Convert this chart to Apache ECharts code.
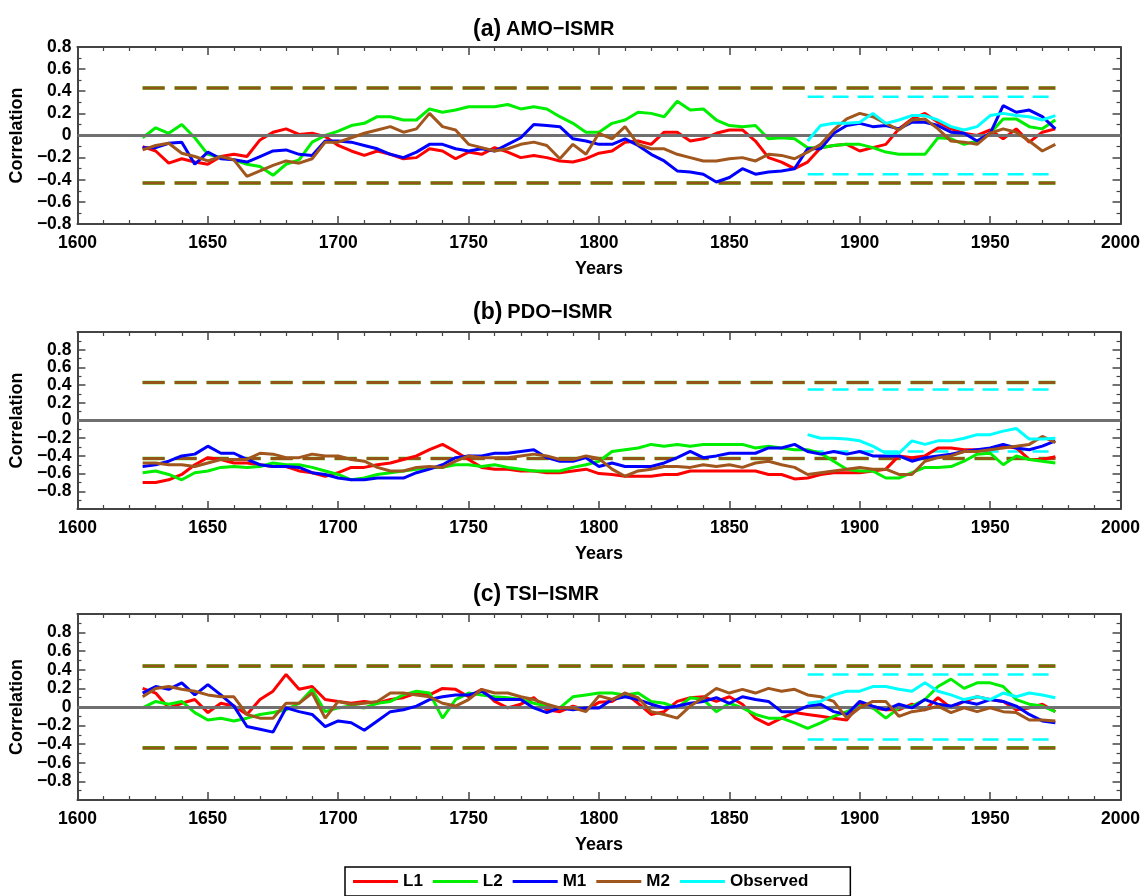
<!DOCTYPE html>
<html>
<head>
<meta charset="utf-8">
<script src="https://cdn.jsdelivr.net/npm/echarts@6/dist/echarts.min.js"></script>
<style>
html,body{margin:0;padding:0;background:#fff;}
#chart{width:1143px;height:896px;}
</style>
</head>
<body>
<div id="chart"></div>
<script>
// ---------- DATA ----------
const years = [];
for (let y = 1625; y <= 1975; y += 5) years.push(y);
const obsYears = [];
for (let y = 1880; y <= 1975; y += 5) obsYears.push(y);

const panelTitles = ['(a)', '(b)', '(c)'];
const panelNames = ['AMO\u2212ISMR', 'PDO\u2212ISMR', 'TSI\u2212ISMR'];
const seriesNames = ['L1', 'L2', 'M1', 'M2', 'Observed'];
const xTicks = [1600, 2000, 50];
const sigModel = [0.43, 0.43, 0.44];
const sigObs = [0.35, 0.35, 0.35];
const yRanges = [[-0.8, 0.8], [-1, 1], [-1, 1]];

// (a) AMO-ISMR
const amoL1 = [-0.10,-0.14,-0.25,-0.21,-0.24,-0.26,-0.19,-0.17,-0.19,-0.04,
  0.03,0.06,0.01,0.02,-0.01,-0.09,-0.14,-0.18,-0.14,-0.17,
  -0.21,-0.20,-0.12,-0.14,-0.21,-0.15,-0.17,-0.11,-0.15,-0.20,
  -0.18,-0.20,-0.23,-0.24,-0.21,-0.16,-0.14,-0.06,-0.05,-0.08,
  0.03,0.03,-0.05,-0.03,0.02,0.05,0.05,-0.05,-0.20,-0.24,
  -0.30,-0.24,-0.11,-0.09,-0.08,-0.14,-0.11,-0.08,0.06,0.15,
  0.20,0.12,0.06,0.02,0.00,0.05,-0.03,0.06,-0.06,0.03,
  0.06];
const amoL2 = [-0.02,0.07,0.02,0.10,-0.02,-0.17,-0.20,-0.22,-0.26,-0.28,
  -0.36,-0.26,-0.22,-0.06,0.00,0.04,0.09,0.11,0.17,0.17,
  0.14,0.14,0.24,0.21,0.23,0.26,0.26,0.26,0.28,0.24,
  0.26,0.24,0.17,0.11,0.03,0.03,0.11,0.14,0.21,0.20,
  0.17,0.31,0.23,0.24,0.14,0.09,0.08,0.09,-0.03,-0.02,
  -0.03,-0.11,-0.11,-0.09,-0.08,-0.08,-0.11,-0.15,-0.17,-0.17,
  -0.17,-0.02,-0.03,-0.08,-0.05,0.02,0.15,0.15,0.08,0.06,
  0.14];
const amoM1 = [-0.11,-0.11,-0.07,-0.06,-0.26,-0.15,-0.21,-0.22,-0.24,-0.19,
  -0.14,-0.13,-0.17,-0.18,-0.05,-0.05,-0.06,-0.09,-0.12,-0.17,
  -0.20,-0.15,-0.08,-0.08,-0.12,-0.14,-0.12,-0.14,-0.08,-0.02,
  0.10,0.09,0.08,-0.03,-0.05,-0.08,-0.08,-0.03,-0.09,-0.17,
  -0.23,-0.32,-0.33,-0.35,-0.42,-0.38,-0.30,-0.35,-0.33,-0.32,
  -0.30,-0.12,-0.12,0.02,0.09,0.11,0.08,0.09,0.06,0.12,
  0.12,0.09,0.03,0.02,-0.05,0.02,0.27,0.21,0.23,0.17,
  0.06];
const amoM2 = [-0.13,-0.09,-0.07,-0.16,-0.19,-0.23,-0.19,-0.22,-0.37,-0.32,
  -0.27,-0.23,-0.25,-0.21,-0.06,-0.06,-0.02,0.02,0.05,0.08,
  0.03,0.06,0.20,0.08,0.05,-0.08,-0.11,-0.14,-0.12,-0.08,
  -0.06,-0.09,-0.21,-0.08,-0.17,0.02,-0.03,0.08,-0.08,-0.12,
  -0.12,-0.17,-0.20,-0.23,-0.23,-0.21,-0.20,-0.23,-0.17,-0.18,
  -0.21,-0.15,-0.08,0.05,0.15,0.20,0.17,0.11,0.05,0.14,
  0.15,0.06,-0.05,-0.06,-0.08,0.02,0.06,0.03,-0.05,-0.14,
  -0.08];
const amoObs = [-0.05,0.09,0.11,0.11,0.12,0.20,0.11,0.14,0.18,0.18,
  0.14,0.08,0.05,0.08,0.18,0.20,0.18,0.17,0.14,0.18];

// (b) PDO-ISMR
const pdoL1 = [-0.70,-0.70,-0.67,-0.61,-0.50,-0.42,-0.44,-0.48,-0.48,-0.50,
  -0.52,-0.52,-0.57,-0.59,-0.63,-0.59,-0.53,-0.53,-0.50,-0.48,
  -0.44,-0.40,-0.33,-0.27,-0.35,-0.44,-0.53,-0.55,-0.55,-0.57,
  -0.57,-0.59,-0.59,-0.57,-0.55,-0.60,-0.61,-0.63,-0.63,-0.63,
  -0.61,-0.61,-0.57,-0.57,-0.57,-0.57,-0.57,-0.57,-0.61,-0.61,
  -0.66,-0.65,-0.61,-0.59,-0.59,-0.59,-0.57,-0.55,-0.40,-0.42,
  -0.40,-0.31,-0.31,-0.33,-0.33,-0.33,-0.29,-0.31,-0.44,-0.44,
  -0.41];
const pdoL2 = [-0.59,-0.57,-0.61,-0.67,-0.59,-0.57,-0.53,-0.52,-0.53,-0.52,
  -0.48,-0.50,-0.50,-0.53,-0.57,-0.61,-0.67,-0.65,-0.61,-0.59,
  -0.57,-0.55,-0.53,-0.53,-0.50,-0.50,-0.52,-0.50,-0.53,-0.55,
  -0.57,-0.57,-0.57,-0.53,-0.50,-0.46,-0.35,-0.33,-0.31,-0.27,
  -0.29,-0.27,-0.29,-0.27,-0.27,-0.27,-0.27,-0.31,-0.29,-0.31,
  -0.33,-0.33,-0.37,-0.46,-0.55,-0.57,-0.57,-0.65,-0.65,-0.59,
  -0.53,-0.53,-0.52,-0.46,-0.38,-0.37,-0.50,-0.40,-0.44,-0.46,
  -0.48];
const pdoM1 = [-0.52,-0.50,-0.46,-0.40,-0.38,-0.29,-0.37,-0.37,-0.44,-0.50,
  -0.52,-0.52,-0.53,-0.59,-0.61,-0.65,-0.67,-0.67,-0.65,-0.65,
  -0.65,-0.59,-0.55,-0.50,-0.42,-0.40,-0.40,-0.37,-0.37,-0.35,
  -0.33,-0.42,-0.46,-0.46,-0.42,-0.52,-0.48,-0.52,-0.52,-0.52,
  -0.48,-0.42,-0.35,-0.42,-0.40,-0.37,-0.37,-0.37,-0.31,-0.31,
  -0.27,-0.35,-0.38,-0.35,-0.38,-0.35,-0.40,-0.40,-0.40,-0.46,
  -0.42,-0.40,-0.38,-0.35,-0.33,-0.31,-0.27,-0.31,-0.33,-0.29,
  -0.23];
const pdoM2 = [-0.48,-0.48,-0.50,-0.50,-0.52,-0.48,-0.44,-0.44,-0.44,-0.37,
  -0.38,-0.42,-0.42,-0.38,-0.40,-0.40,-0.44,-0.46,-0.53,-0.57,
  -0.57,-0.53,-0.52,-0.53,-0.46,-0.40,-0.42,-0.42,-0.42,-0.40,
  -0.38,-0.40,-0.44,-0.44,-0.40,-0.43,-0.55,-0.63,-0.57,-0.55,
  -0.52,-0.52,-0.53,-0.50,-0.52,-0.50,-0.53,-0.48,-0.46,-0.50,
  -0.53,-0.61,-0.59,-0.57,-0.55,-0.53,-0.55,-0.55,-0.61,-0.61,
  -0.46,-0.42,-0.40,-0.35,-0.35,-0.33,-0.31,-0.29,-0.27,-0.18,
  -0.25];
const pdoObs = [-0.16,-0.20,-0.20,-0.21,-0.23,-0.29,-0.37,-0.37,-0.23,-0.27,
  -0.23,-0.23,-0.20,-0.16,-0.16,-0.12,-0.09,-0.21,-0.21,-0.20];

// (c) TSI-ISMR
const tsiL1 = [0.20,0.15,-0.01,0.04,0.08,-0.06,0.04,0.01,-0.08,0.08,
  0.17,0.35,0.19,0.22,0.08,0.06,0.04,0.06,0.04,0.08,
  0.10,0.15,0.13,0.20,0.19,0.11,0.19,0.06,-0.01,0.03,
  0.10,-0.03,-0.05,0.01,-0.03,0.05,0.06,0.15,0.04,-0.08,
  -0.05,0.06,0.10,0.11,0.06,0.11,0.03,-0.12,-0.19,-0.12,
  -0.06,-0.08,-0.10,-0.12,-0.14,0.04,-0.01,-0.03,-0.03,0.03,
  -0.03,0.10,-0.01,0.06,0.11,0.08,0.06,-0.03,-0.01,0.03,
  -0.05];
const tsiL2 = [-0.01,0.06,0.03,0.06,-0.06,-0.14,-0.12,-0.15,-0.12,-0.08,
  -0.06,-0.03,0.04,0.19,-0.05,-0.01,0.01,-0.01,0.04,0.06,
  0.13,0.17,0.15,-0.12,0.08,0.15,0.13,0.11,0.10,0.08,
  0.04,0.01,-0.01,0.11,0.13,0.15,0.15,0.13,0.15,0.06,
  0.04,-0.01,0.10,0.08,-0.05,0.04,-0.01,-0.08,-0.12,-0.12,
  -0.17,-0.23,-0.17,-0.10,-0.05,0.01,-0.01,-0.12,-0.01,0.01,
  0.08,0.22,0.30,0.20,0.26,0.26,0.22,0.08,0.03,0.01,
  -0.05];
const tsiM1 = [0.15,0.22,0.19,0.26,0.13,0.24,0.13,0.01,-0.21,-0.24,
  -0.27,-0.01,-0.05,-0.08,-0.21,-0.15,-0.17,-0.25,-0.15,-0.05,
  -0.03,0.01,0.08,0.11,0.13,0.13,0.17,0.08,0.08,0.08,
  -0.01,-0.06,-0.01,-0.03,-0.01,-0.01,0.08,0.11,0.08,0.03,
  -0.01,0.01,0.04,0.06,0.10,0.04,0.11,0.08,0.06,-0.05,
  -0.05,0.01,0.03,-0.05,-0.08,0.06,0.01,-0.03,0.03,-0.01,
  0.08,0.03,0.01,0.06,0.03,0.08,0.06,0.01,-0.08,-0.15,
  -0.17];
const tsiM2 = [0.11,0.20,0.22,0.19,0.17,0.13,0.11,0.11,-0.08,-0.12,
  -0.12,0.04,0.04,0.15,-0.12,0.06,0.03,0.04,0.06,0.15,
  0.15,0.13,0.11,0.04,0.01,0.08,0.19,0.15,0.15,0.11,
  0.08,0.03,-0.01,-0.01,-0.05,0.12,0.08,0.15,0.10,-0.05,
  -0.08,-0.12,0.01,0.10,0.20,0.15,0.19,0.15,0.20,0.17,
  0.19,0.13,0.11,0.06,-0.12,-0.01,0.06,0.06,-0.10,-0.05,
  -0.03,0.01,-0.06,-0.01,-0.05,-0.01,-0.05,-0.06,-0.14,-0.14,
  -0.15];
const tsiObs = [0.04,0.06,0.13,0.17,0.17,0.22,0.22,0.19,0.17,0.26,
  0.17,0.13,0.08,0.11,0.08,0.15,0.11,0.15,0.13,0.10];

const panels = [
  [amoL1, amoL2, amoM1, amoM2, amoObs],
  [pdoL1, pdoL2, pdoM1, pdoM2, pdoObs],
  [tsiL1, tsiL2, tsiM1, tsiM2, tsiObs]
];

// ---------- STYLE ----------
const colors = ['#ff0000', '#00ee00', '#0000ff', '#a0561c', '#00ffff'];
const FONT = 'Liberation Sans, Arial, Helvetica, sans-serif';
const AX = '#444';
const grids = [
  {left: 77, right: 21, top: 47, height: 177},
  {left: 77, right: 21, top: 332, height: 177},
  {left: 77, right: 21, top: 614, height: 186}
];
const titleTops = [13, 296, 578];

const chart = echarts.init(document.getElementById('chart'), null, {renderer: 'canvas'});

const xAxes = [], yAxes = [], series = [], titles = [];

function yFmt(v) {
  if (Math.abs(v) < 1e-9) return '0';
  if (Math.abs(Math.abs(v) - 1) < 1e-9) return '';
  return (v < 0 ? '\u2212' : '') + Math.abs(v).toFixed(1);
}
function xFmt(v) { return String(Math.round(v)); }

for (let p = 0; p < 3; p++) {
  const tickCommon = {
    axisLine: {show: true, onZero: false, lineStyle: {color: AX, width: 2}},
    axisTick: {show: true, inside: true, length: 8, lineStyle: {color: AX, width: 1.5}},
    minorTick: {show: true, splitNumber: 5, length: 4, lineStyle: {color: AX, width: 1.2}},
    splitLine: {show: false}
  };
  xAxes.push(Object.assign({
    type: 'value', gridIndex: p, min: xTicks[0], max: xTicks[1], interval: xTicks[2],
    position: 'bottom',
    axisLabel: {color: '#000', fontSize: 17.5, fontWeight: 'bold', fontFamily: FONT, margin: 10,
      formatter: xFmt, showMinLabel: true, showMaxLabel: true},
    name: 'Years', nameLocation: 'middle', nameGap: 36,
    nameTextStyle: {color: '#000', fontSize: 18, fontWeight: 'bold', fontFamily: FONT}
  }, tickCommon));
  xAxes.push(Object.assign({
    type: 'value', gridIndex: p, min: xTicks[0], max: xTicks[1], interval: xTicks[2],
    position: 'top', axisLabel: {show: false}
  }, tickCommon));
  const yCommon = {
    axisLine: {show: true, onZero: false, lineStyle: {color: AX, width: 2}},
    axisTick: {show: true, inside: true, length: 8, lineStyle: {color: AX, width: 1.5}},
    minorTick: {show: true, splitNumber: 2, length: 4, lineStyle: {color: AX, width: 1.2}},
    splitLine: {show: false}
  };
  yAxes.push(Object.assign({
    type: 'value', gridIndex: p, min: yRanges[p][0], max: yRanges[p][1], interval: 0.2,
    position: 'left',
    axisLabel: {color: '#000', fontSize: 17.5, fontWeight: 'bold', fontFamily: FONT, margin: 6,
      formatter: yFmt, showMinLabel: true, showMaxLabel: true},
    name: 'Correlation', nameLocation: 'middle', nameGap: 39, nameRotate: 90,
    nameTextStyle: {color: '#000', fontSize: 18, fontWeight: 'bold', fontFamily: FONT}
  }, yCommon));
  yAxes.push(Object.assign({
    type: 'value', gridIndex: p, min: yRanges[p][0], max: yRanges[p][1], interval: 0.2,
    position: 'right', axisLabel: {show: false}
  }, yCommon));

  const xi = p * 2, yi = p * 2;
  const x0 = years[0], x1 = years[years.length - 1];
  [sigModel[p], -sigModel[p]].forEach((s, k) => {
    series.push({
      type: 'line', name: 'sig', xAxisIndex: xi, yAxisIndex: yi, silent: true,
      showSymbol: false, symbol: 'none', z: 1,
      data: [[x0, s], [x1, s]],
      lineStyle: {color: '#33cc00', width: 3.6, type: [22, 10]},
      markLine: k === 0 ? {
        silent: true, symbol: 'none', label: {show: false},
        lineStyle: {color: '#707070', width: 3, type: 'solid'},
        data: [{yAxis: 0}]
      } : undefined
    });
    series.push({
      type: 'line', name: 'sig2', xAxisIndex: xi, yAxisIndex: yi, silent: true,
      showSymbol: false, symbol: 'none', z: 1,
      data: [[x0, s], [x1, s]],
      lineStyle: {color: '#955418', width: 3, type: [22, 10]}
    });
  });
  const ox0 = obsYears[0], ox1 = obsYears[obsYears.length - 1];
  [sigObs[p], -sigObs[p]].forEach(s => {
    series.push({
      type: 'line', name: 'sigobs', xAxisIndex: xi, yAxisIndex: yi, silent: true,
      showSymbol: false, symbol: 'none', z: 1,
      data: [[ox0, s], [ox1, s]],
      lineStyle: {color: '#00ffff', width: 2.5, type: [16, 9]}
    });
  });

  for (let s = 0; s < 5; s++) {
    const xs = s === 4 ? obsYears : years;
    const vals = panels[p][s];
    series.push({
      type: 'line', name: seriesNames[s], xAxisIndex: xi, yAxisIndex: yi,
      showSymbol: false, symbol: 'none', z: 3 + s,
      data: xs.map((y, i) => [y, vals[i]]),
      lineStyle: {color: colors[s], width: 3},
      itemStyle: {color: colors[s]}
    });
  }

  titles.push({
    text: '{a|' + panelTitles[p] + '} {b|' + panelNames[p] + '}',
    left: 468, top: titleTops[p],
    textStyle: {
      rich: {
        a: {fontSize: 23, fontWeight: 'bold', fontFamily: FONT, color: '#000'},
        b: {fontSize: 20, fontWeight: 'bold', fontFamily: FONT, color: '#000'}
      }
    }
  });
}

chart.setOption({
  animation: false,
  backgroundColor: '#fff',
  title: titles,
  grid: grids,
  xAxis: xAxes,
  yAxis: yAxes,
  legend: {
    data: seriesNames, left: 345, top: 867, icon: 'rect',
    itemWidth: 45, itemHeight: 3, itemGap: 10,
    borderColor: '#000', borderWidth: 1.5, borderRadius: 0,
    padding: [6, 42, 6, 8],
    textStyle: {color: '#000', fontSize: 17, fontWeight: 'bold', fontFamily: FONT}
  },
  series: series
});
</script>
</body>
</html>
